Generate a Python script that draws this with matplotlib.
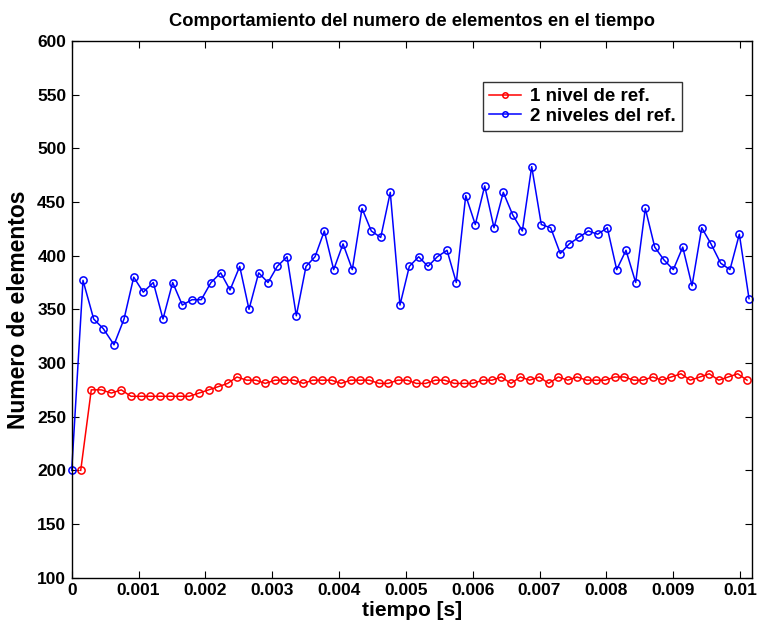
import matplotlib
matplotlib.use("Agg")
import matplotlib.pyplot as plt
import numpy as np

plt.rcParams['font.family'] = ['Liberation Sans', 'DejaVu Sans']

# time in ms (converted to s below)
t_red_ms = [0.135, 0.293, 0.443, 0.593, 0.742, 0.887, 1.032, 1.176, 1.321, 1.466,
            1.616, 1.760, 1.905, 2.050, 2.194, 2.334, 2.473, 2.619, 2.758, 2.897,
            3.042, 3.181, 3.326, 3.466, 3.606, 3.750, 3.890, 4.030, 4.175, 4.314,
            4.453, 4.598, 4.737, 4.878, 5.022, 5.156, 5.297, 5.441, 5.581, 5.725,
            5.866, 6.005, 6.150, 6.289, 6.428, 6.574, 6.713, 6.853, 6.997, 7.138,
            7.281, 7.422, 7.561, 7.706, 7.845, 7.984, 8.130, 8.269, 8.409, 8.549,
            8.694, 8.833, 8.972, 9.117, 9.256, 9.401, 9.541, 9.681, 9.825, 9.966,
            10.105]
n_red = [200, 275, 275, 272, 275, 269, 269, 269, 269, 269,
         269, 269, 272, 275, 278, 281, 287, 284, 284, 281,
         284, 284, 284, 281, 284, 284, 284, 281, 284, 284,
         284, 281, 281, 284, 284, 281, 281, 284, 284, 281,
         281, 281, 284, 284, 287, 281, 287, 284, 287, 281,
         287, 284, 287, 284, 284, 284, 287, 287, 284, 284,
         287, 284, 287, 290, 284, 287, 290, 284, 287, 290,
         284]

t_blue_ms = [0.0, 0.169, 0.329, 0.473, 0.633, 0.783, 0.928, 1.071, 1.221, 1.366,
             1.511, 1.655, 1.800, 1.939, 2.084, 2.230, 2.369, 2.514, 2.653, 2.798,
             2.937, 3.076, 3.222, 3.361, 3.506, 3.641, 3.780, 3.920, 4.060, 4.199,
             4.344, 4.483, 4.624, 4.767, 4.912, 5.052, 5.192, 5.331, 5.471, 5.616,
             5.755, 5.896, 6.039, 6.180, 6.319, 6.458, 6.599, 6.743, 6.883, 7.027,
             7.167, 7.311, 7.446, 7.586, 7.730, 7.871, 8.014, 8.155, 8.294, 8.439,
             8.583, 8.724, 8.863, 9.002, 9.143, 9.282, 9.427, 9.566, 9.711, 9.850,
             9.990, 10.135]
n_blue = [200, 377, 341, 332, 317, 341, 380, 366, 375, 341,
          375, 354, 359, 359, 375, 384, 368, 390, 350, 384,
          375, 390, 399, 344, 390, 399, 423, 387, 411, 387,
          444, 423, 417, 459, 354, 390, 399, 390, 399, 405,
          375, 456, 429, 465, 426, 459, 438, 423, 483, 429,
          426, 402, 411, 417, 423, 420, 426, 387, 405, 375,
          444, 408, 396, 387, 408, 372, 426, 411, 393, 387,
          420, 360]

label_red = '1 nivel de ref.'
label_blue = '2 niveles del ref.'
title = 'Comportamiento del numero de elementos en el tiempo'
xlabel = 'tiempo [s]'
ylabel = 'Numero de elementos'
xticks = [0, 0.001, 0.002, 0.003, 0.004, 0.005, 0.006, 0.007, 0.008, 0.009, 0.01]
xticklabels = ['0', '0.001', '0.002', '0.003', '0.004', '0.005', '0.006', '0.007', '0.008', '0.009', '0.01']
yticks = [100, 150, 200, 250, 300, 350, 400, 450, 500, 550, 600]

t_red = np.array(t_red_ms) * 1e-3
t_blue = np.array(t_blue_ms) * 1e-3

W, H = 757, 630
fig = plt.figure(figsize=(W / 100, H / 100), dpi=100)
ax = fig.add_axes([71.7 / W, 1 - 577.7 / H, (752.3 - 71.7) / W, (577.7 - 41) / H])

ax.plot(t_red, n_red, '-o', color='#ff0000', lw=1.1, ms=5.2, mfc='none', mew=1.1,
        label=label_red, clip_on=False)
ax.plot(t_blue, n_blue, '-o', color='#0000ff', lw=1.1, ms=5.2, mfc='none', mew=1.1,
        label=label_blue, clip_on=False)

ax.set_xlim(0, 0.010184)
ax.set_ylim(100, 600)
ax.set_xticks(xticks)
ax.set_xticklabels(xticklabels)
ax.set_yticks(yticks)
ax.tick_params(direction='in', top=True, right=True, length=5, width=0.8,
               labelsize=12.5, pad=4)
for lab in ax.get_xticklabels() + ax.get_yticklabels():
    lab.set_fontweight('bold')
for s in ax.spines.values():
    s.set_linewidth(1.0)

ax.set_title(title, fontsize=13.2, fontweight='bold', pad=11)
ax.set_xlabel(xlabel, fontsize=15, fontweight='bold', labelpad=2)
ax.set_ylabel(ylabel, fontsize=16.5, fontweight='bold', labelpad=5)

leg = ax.legend(loc='upper left', bbox_to_anchor=(482.7 / W, 1 - 82 / H),
                bbox_transform=fig.transFigure, borderaxespad=0,
                prop={'weight': 'bold', 'size': 13.5}, frameon=True, fancybox=False,
                edgecolor='black', handlelength=1.7, borderpad=0.33,
                labelspacing=0.12, handletextpad=0.5, markerscale=0.75)
leg.get_frame().set_linewidth(1.0)

fig.savefig('out.png', dpi=100)
